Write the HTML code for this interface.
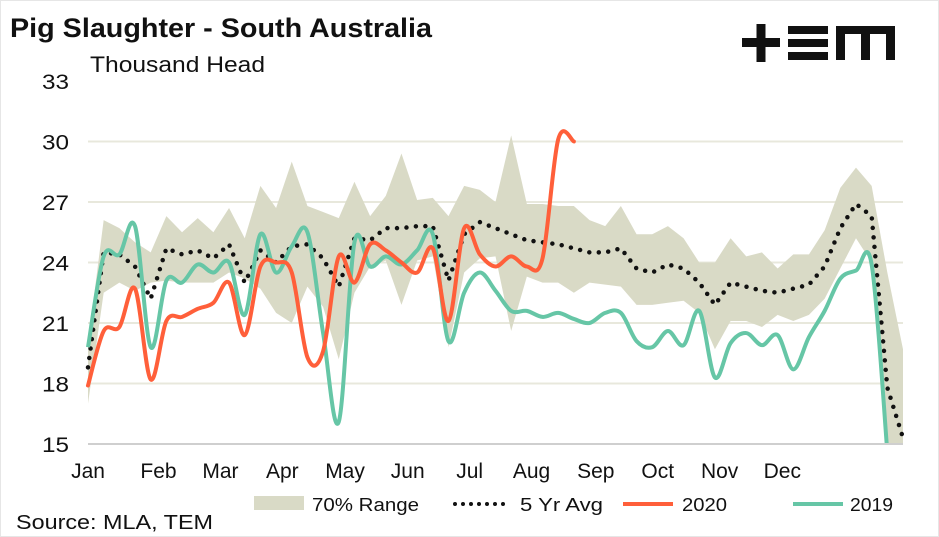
<!DOCTYPE html>
<html><head><meta charset="utf-8"><style>
html,body{margin:0;padding:0;background:#fff;}
#wrap{position:relative;width:939px;height:537px;overflow:hidden;font-family:"Liberation Sans",sans-serif;}
svg text{font-family:"Liberation Sans",sans-serif;}
</style></head><body>
<div id="wrap">
<svg id="chart" width="939" height="537" viewBox="0 0 939 537">
<defs><clipPath id="plotclip"><rect x="80" y="60" width="840" height="384"/></clipPath></defs>
<rect x="0.5" y="0.5" width="938" height="536" fill="#fff" stroke="#e6e6e6"/>
<text x="10" y="37" font-size="27" font-weight="bold" fill="#111" textLength="422" lengthAdjust="spacingAndGlyphs">Pig Slaughter - South Australia</text>
<text x="90" y="72" font-size="22" fill="#111" textLength="175" lengthAdjust="spacingAndGlyphs">Thousand Head</text>
<g fill="#111">
<rect x="742" y="38" width="38" height="9"/><rect x="756.5" y="24" width="9" height="38"/>
<rect x="788" y="26" width="40" height="8"/><rect x="788" y="39" width="40" height="8"/><rect x="788" y="52" width="40" height="8"/>
<path d="M836 60 V26 H895 V60 H886 V34 H870 V60 H861 V34 H845 V60 Z"/>
</g>
<g id="grid"></g><g id="band" clip-path="url(#plotclip)"></g><g id="lines" clip-path="url(#plotclip)"></g><g id="axes"></g>
<g>
<rect x="254" y="496" width="50" height="14" fill="#d9dac6"/>
<text x="312" y="511" font-size="18" fill="#111" textLength="107" lengthAdjust="spacingAndGlyphs">70% Range</text>
<line x1="455" y1="504" x2="505" y2="504" stroke="#111" stroke-width="4" stroke-linecap="round" stroke-dasharray="0 8"/>
<text x="520" y="511" font-size="18" fill="#111" textLength="83" lengthAdjust="spacingAndGlyphs">5 Yr Avg</text>
<line x1="623" y1="504" x2="673" y2="504" stroke="#ff5f3a" stroke-width="4"/>
<text x="682" y="511" font-size="18" fill="#111" textLength="45" lengthAdjust="spacingAndGlyphs">2020</text>
<line x1="793" y1="504" x2="843" y2="504" stroke="#66c6a6" stroke-width="4"/>
<text x="850" y="511" font-size="18" fill="#111" textLength="43" lengthAdjust="spacingAndGlyphs">2019</text>
</g>
<text x="16" y="529" font-size="20" fill="#111" textLength="197" lengthAdjust="spacingAndGlyphs">Source: MLA, TEM</text>
</svg>
</div>
<script>
const months=["Jan","Feb","Mar","Apr","May","Jun","Jul","Aug","Sep","Oct","Nov","Dec"];
const monthPos=[0,4.5,8.45,12.4,16.4,20.4,24.35,28.3,32.4,36.35,40.3,44.3];
const yTicks=[15,18,21,24,27,30,33];
const bandUpper=[20,26.1,25.7,25.0,24.5,26.3,25.5,26.2,25.5,26.7,25.2,27.8,26.7,29.0,26.8,26.5,26.2,28.0,26.3,27.3,29.4,27.1,27.2,26.3,27.8,27.6,27.0,30.3,26.9,26.9,26.8,26.8,26.1,25.8,26.8,25.4,25.4,25.8,25.2,24.0,24.0,25.2,24.3,24.5,23.7,24.4,24.4,25.6,27.7,28.7,27.8,23.5,19.7];
const bandLower=[17.0,22.5,23.0,22.6,23.0,23.1,23.0,23.0,23.0,23.5,23.2,22.7,21.5,21.0,22.8,21.8,19.2,22.5,23.8,24.1,21.9,24.1,24.3,19.8,23.5,24.2,24.3,20.6,23.3,23.0,23.0,22.5,23.0,22.9,22.8,21.9,21.9,22.0,22.1,21.5,19.7,21.1,21.1,20.8,21.4,21.1,21.4,22.2,23.7,25.2,24.0,15.0,15.0];
const avg5=[18.8,24.5,24.4,23.8,22.2,24.7,24.4,24.6,24.2,24.9,23.0,24.6,24.0,24.8,24.9,24.2,22.8,25.2,25.1,25.7,25.7,25.8,25.8,23.1,25.4,26.0,25.7,25.4,25.1,25.0,24.9,24.7,24.5,24.5,24.7,23.7,23.5,23.9,23.7,23.0,21.9,23.0,22.8,22.6,22.5,22.7,22.9,23.8,25.7,26.9,26.3,17.8,15.3];
const s2020=[17.9,20.6,20.8,22.7,18.2,21.1,21.3,21.7,22.0,23.0,20.4,23.8,24.0,23.5,19.3,19.6,24.3,23.0,24.9,24.6,24.0,23.5,24.7,21.1,25.7,24.4,23.8,24.3,23.8,24.2,30.1,30.0];
const s2019=[19.8,24.3,24.4,25.8,19.8,23.1,23.0,23.9,23.5,24.0,21.4,25.4,23.5,24.8,25.5,20.5,16.1,25.0,23.8,24.3,23.9,24.6,25.4,20.1,22.5,23.5,22.6,21.6,21.6,21.3,21.5,21.2,21.0,21.5,21.5,20.1,19.8,20.6,19.9,21.6,18.3,20.0,20.5,19.9,20.4,18.7,20.3,21.6,23.2,23.6,23.9,14.6];

const X0=88,X1=903,NW=52,YB=444,PX=20.17;
const xs=w=>X0+w*(X1-X0)/NW;
const ys=v=>YB-(v-15)*PX;
const NS="http://www.w3.org/2000/svg";
function mk(tag,attrs,parent){const e=document.createElementNS(NS,tag);for(const k in attrs)e.setAttribute(k,attrs[k]);parent.appendChild(e);return e;}
function smooth(pts){let d=`M${pts[0][0]},${pts[0][1]}`;for(let i=0;i<pts.length-1;i++){const p0=pts[i-1]||pts[i],p1=pts[i],p2=pts[i+1],p3=pts[i+2]||p2;const c1=[p1[0]+(p2[0]-p0[0])/6,p1[1]+(p2[1]-p0[1])/6],c2=[p2[0]-(p3[0]-p1[0])/6,p2[1]-(p3[1]-p1[1])/6];d+=` C${c1[0]},${c1[1]} ${c2[0]},${c2[1]} ${p2[0]},${p2[1]}`;}return d;}

const grid=document.getElementById('grid'),axes=document.getElementById('axes'),band=document.getElementById('band'),lines=document.getElementById('lines');
yTicks.forEach(t=>{
  if(t>15&&t<33){const g=mk('line',{x1:X0,x2:X1,y1:ys(t),y2:ys(t),stroke:'#e8e8dc','stroke-width':2},grid);
  
  }
  const l=mk('text',{x:69,y:ys(t)+8,'font-size':21,'text-anchor':'end',fill:'#111',textLength:27,lengthAdjust:'spacingAndGlyphs'},axes);l.textContent=t;
  
  
});
const base=mk('line',{x1:X0,x2:X1,y1:YB,y2:YB,stroke:'#cfcfcf','stroke-width':2},axes);


months.forEach((m,i)=>{const t=mk('text',{x:xs(monthPos[i]),y:478,'font-size':21,'text-anchor':'middle',fill:'#111'},axes);t.textContent=m;
  
  });

let d='';bandUpper.forEach((v,i)=>{d+=(i?'L':'M')+xs(i)+','+ys(v);});
for(let i=bandLower.length-1;i>=0;i--)d+='L'+xs(i)+','+ys(bandLower[i]);
const bp=mk('path',{d:d+'Z',fill:'#d9dac6'},band);



const ap=mk('path',{d:avg5.map((v,i)=>(i?'L':'M')+xs(i)+','+ys(v)).join(''),fill:'none',stroke:'#111','stroke-width':4.5,'stroke-linecap':'round','stroke-dasharray':'0 9.5'},lines);


const p19=mk('path',{d:smooth(s2019.map((v,i)=>[xs(i),ys(v)])),fill:'none',stroke:'#66c6a6','stroke-width':4,'stroke-linejoin':'round'},lines);


const p20=mk('path',{d:smooth(s2020.map((v,i)=>[xs(i),ys(v)])),fill:'none',stroke:'#ff5f3a','stroke-width':4,'stroke-linejoin':'round','stroke-linecap':'round'},lines);


</script>
</body></html>
